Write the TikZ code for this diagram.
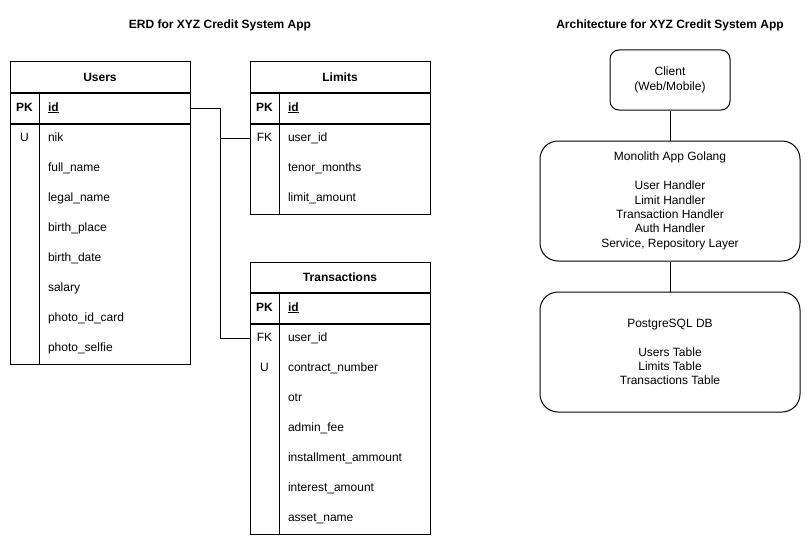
\documentclass[tikz,border=0pt]{standalone}
\usepackage{fontspec}
\setmainfont{Liberation Sans}
\usetikzlibrary{positioning, calc}

\begin{document}
\begin{tikzpicture}[
  x=1pt, y=-1pt,
  font=\fontsize{12pt}{14.4pt}\selectfont,
  line width=1pt,
  title/.style={font=\fontsize{12pt}{14.4pt}\selectfont\bfseries},
  tblhead/.style={draw, minimum width=180pt, minimum height=30pt, inner sep=0pt, font=\fontsize{12pt}{14.4pt}\selectfont\bfseries},
  pkrow/.style={draw, minimum width=180pt, minimum height=30pt, inner sep=0pt},
  tblbody/.style={draw, minimum width=180pt, inner sep=0pt},
  keytxt/.style={inner sep=0pt, text height=8.6pt, text depth=2.5pt},
  field/.style={anchor=west, inner sep=0pt, text height=8.6pt, text depth=2.5pt},
  archsmall/.style={draw, rounded corners=9pt, align=center, inner sep=0pt, minimum width=120pt, minimum height=60pt},
  archbig/.style={draw, rounded corners=18pt, align=center, inner sep=0pt, minimum width=260pt, minimum height=120pt},
  link/.style={draw},
]
\useasboundingbox (0,0) rectangle (811,543);

% ---- titles ----
\node[title] (erdtitle) at (220,25) {ERD for XYZ Credit System App};
\node[title] (archtitle) at (670,25) {Architecture for XYZ Credit System App};

% ---- Users ----
\node[tblhead] (usr) at (100,77) {Users};
\node[pkrow, below=0pt of usr] (usr-pk) {};
\node[tblbody, minimum height=240pt, below=0pt of usr-pk] (usr-body) {};
\draw ($(usr-pk.north west)+(30,0)$) -- ($(usr-body.south west)+(30,0)$);
\node[keytxt, font=\fontsize{12pt}{14.4pt}\selectfont\bfseries] at ($(usr-pk.west)+(15,0)$) {PK};
\node[field] at ($(usr-pk.west)+(38,0)$) {\underline{\textbf{id}}};
\node[keytxt] at ($(usr-body.north west)+(15,15)$) {U};
\foreach \f [count=\i from 0] in {nik, full\_name, legal\_name, birth\_place, birth\_date, salary, photo\_id\_card, photo\_selfie}
  \node[field] at ($(usr-body.north west)+(38,15+30*\i)$) {\f};

% ---- Limits ----
\node[tblhead] (lim) at (340,77) {Limits};
\node[pkrow, below=0pt of lim] (lim-pk) {};
\node[tblbody, minimum height=90pt, below=0pt of lim-pk] (lim-body) {};
\draw ($(lim-pk.north west)+(30,0)$) -- ($(lim-body.south west)+(30,0)$);
\node[keytxt, font=\fontsize{12pt}{14.4pt}\selectfont\bfseries] at ($(lim-pk.west)+(15,0)$) {PK};
\node[field] at ($(lim-pk.west)+(38,0)$) {\underline{\textbf{id}}};
\node[keytxt] at ($(lim-body.north west)+(15,15)$) {FK};
\coordinate (lim-fk) at ($(lim-body.north west)+(0,15)$);
\foreach \f [count=\i from 0] in {user\_id, tenor\_months, limit\_amount}
  \node[field] at ($(lim-body.north west)+(38,15+30*\i)$) {\f};

% ---- Transactions ----
\node[tblhead] (trx) at (340,277) {Transactions};
\node[pkrow, below=0pt of trx] (trx-pk) {};
\node[tblbody, minimum height=210pt, below=0pt of trx-pk] (trx-body) {};
\draw ($(trx-pk.north west)+(30,0)$) -- ($(trx-body.south west)+(30,0)$);
\node[keytxt, font=\fontsize{12pt}{14.4pt}\selectfont\bfseries] at ($(trx-pk.west)+(15,0)$) {PK};
\node[field] at ($(trx-pk.west)+(38,0)$) {\underline{\textbf{id}}};
\node[keytxt] at ($(trx-body.north west)+(15,15)$) {FK};
\node[keytxt] at ($(trx-body.north west)+(15,45)$) {U};
\coordinate (trx-fk) at ($(trx-body.north west)+(0,15)$);
\foreach \f [count=\i from 0] in {user\_id, contract\_number, otr, admin\_fee, installment\_ammount, interest\_amount, asset\_name}
  \node[field] at ($(trx-body.north west)+(38,15+30*\i)$) {\f};

% ---- relations ----
\draw[link] (usr-pk.east) -- ++(30,0) |- (lim-fk);
\draw[link] (usr-pk.east) -- ++(30,0) |- (trx-fk);

% ---- architecture ----
\node[archsmall] (client) at (670,80) {Client\\(Web/Mobile)};
\node[archbig, below=30pt of client] (app) {Monolith App Golang\\[14.4pt]User Handler\\Limit Handler\\Transaction Handler\\Auth Handler\\Service, Repository Layer};
\node[archbig, below=30pt of app] (db) {PostgreSQL DB\\[14.4pt]Users Table\\Limits Table\\Transactions Table};
\draw[link] (client) -- (app);
\draw[link] (app) -- (db);

\end{tikzpicture}
\end{document}
